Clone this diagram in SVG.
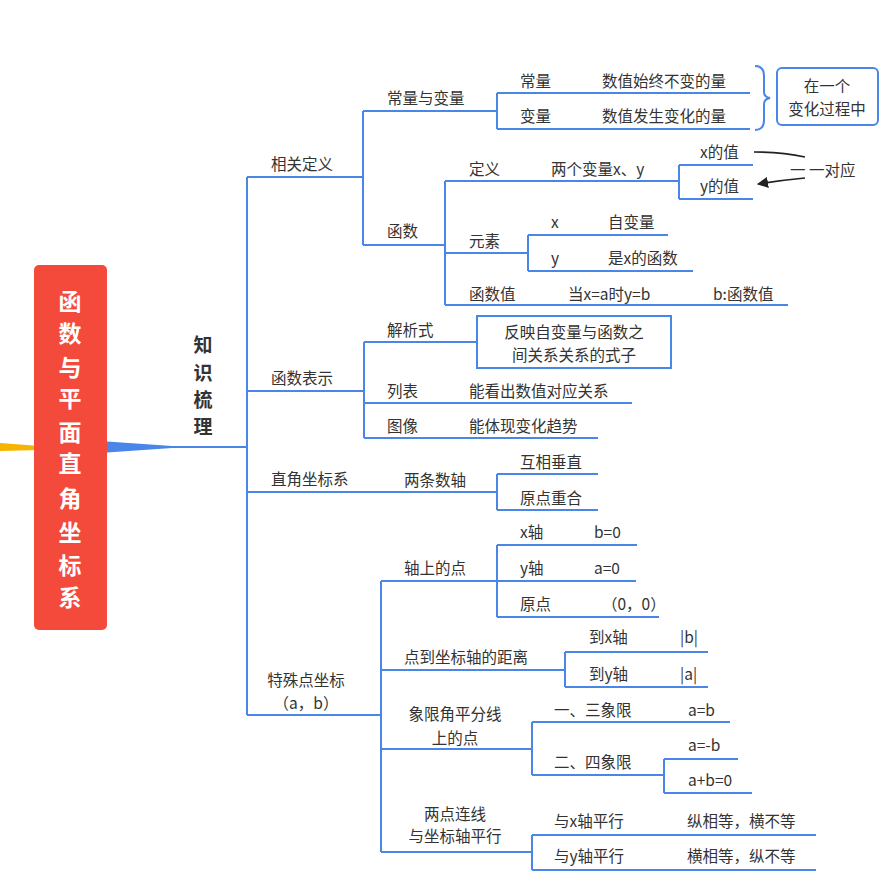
<svg xmlns="http://www.w3.org/2000/svg" width="891" height="883" viewBox="0 0 891 883">
<defs>
<style>
text{font-family:"Noto Sans CJK SC","Liberation Sans",sans-serif;font-size:15.5px;fill:#333}
.c path,.c polyline,.c line{fill:none;stroke:#4a86e8;stroke-width:2}
.box{fill:#fff;stroke:#4a86e8;stroke-width:2}
.mid{text-anchor:middle}
.k{font-weight:bold;font-size:19px;text-anchor:middle}
.r{font-weight:bold;font-size:23px;fill:#fff;text-anchor:middle}
</style>
<marker id="ah" viewBox="0 0 10 10" refX="9" refY="5" markerWidth="7" markerHeight="7" orient="auto"><path d="M0,0L10,5L0,10z" fill="#222"/></marker>
</defs>
<rect width="891" height="883" fill="#fff"/>
<g id="links" class="c">
<polygon points="0,443 40,446 40,450 0,451" fill="#f5b400" stroke="none"/>
<polygon points="100,441 172,446 172,448 100,453" fill="#4a86e8" stroke="none"/>
<path d="M170,447H247M247,177V715"/>
<path d="M247,177H363M363,111V245M363,111H497M497,93V129M497,93H750M497,129H750"/>
<path d="M363,245H445M445,181V305M445,181H679M679,165V199M679,165H753M679,199H753"/>
<path d="M445,253H528M528,235V271M528,235H668M528,271H693M445,305H788"/>
<path d="M247,391H364M364,342V438M364,342H477M364,403H632M364,438H598"/>
<path d="M247,492H497M497,474V510M497,474H598M497,510H598"/>
<path d="M247,715H381M381,581V852M381,581H497M497,545V617M497,545H637M497,581H636M497,617H659"/>
<path d="M381,670H565M565,652V687M565,652H708M565,687H708"/>
<path d="M381,749H532M532,722V775M532,722H730M532,775H664M664,759V793M664,759H738M664,793H752"/>
<path d="M381,852H532M532,835V870M532,835H816M532,870H816"/>
<path d="M755,66Q764,66 764,76V92Q764,97 770,98Q764,99 764,104V120Q764,130 755,130"/>
<path d="M754,152Q782,152 805,157" style="stroke:#222;stroke-width:1.6"/>
<path d="M805,178Q783,180 758,184" style="stroke:#222;stroke-width:1.6" marker-end="url(#ah)"/>
</g>
<g id="root"><rect x="34" y="265" width="73" height="365" rx="5" fill="#f44a3b"/>
<text class="r" x="70" y="310">函</text><text class="r" x="70" y="342">数</text><text class="r" x="70" y="376">与</text><text class="r" x="70" y="407">平</text><text class="r" x="70" y="441">面</text><text class="r" x="70" y="472">直</text><text class="r" x="70" y="507">角</text><text class="r" x="70" y="541">坐</text><text class="r" x="70" y="574">标</text><text class="r" x="70" y="606">系</text></g>
<g id="zhishi"><text class="k" x="203" y="352">知</text><text class="k" x="203" y="380">识</text><text class="k" x="203" y="407">梳</text><text class="k" x="203" y="434">理</text></g>
<g id="n1"><text x="271" y="170">相关定义</text></g>
<g id="n1a"><text x="387" y="104">常量与变量</text><text x="520" y="87">常量</text><text x="602" y="87">数值始终不变的量</text><text x="520" y="122">变量</text><text x="602" y="122">数值发生变化的量</text></g>
<g id="box1"><rect class="box" x="777" y="68" width="101" height="57" rx="5"/><text class="mid" x="827" y="92">在一个</text><text class="mid" x="827" y="115">变化过程中</text></g>
<g id="n1b"><text x="387" y="237">函数</text><text x="469" y="175">定义</text><text x="551" y="175">两个变量x、y</text><text x="700" y="158">x的值</text><text x="700" y="192">y的值</text><text x="790" y="176">一 一对应</text>
<text x="469" y="247">元素</text><text x="551" y="228">x</text><text x="608" y="228">自变量</text><text x="551" y="264">y</text><text x="608" y="264">是x的函数</text>
<text x="469" y="300">函数值</text><text x="568" y="300">当x=a时y=b</text><text x="713" y="300">b:函数值</text></g>
<g id="n2"><text x="271" y="384">函数表示</text><text x="387" y="336">解析式</text><rect class="box" x="477" y="316" width="194" height="52"/><text class="mid" x="574" y="338">反映自变量与函数之</text><text class="mid" x="574" y="361">间关系关系的式子</text>
<text x="387" y="397">列表</text><text x="469" y="397">能看出数值对应关系</text><text x="387" y="432">图像</text><text x="469" y="432">能体现变化趋势</text></g>
<g id="n3"><text x="271" y="485">直角坐标系</text><text x="404" y="486">两条数轴</text><text x="520" y="468">互相垂直</text><text x="520" y="504">原点重合</text></g>
<g id="n4"><text class="mid" x="306" y="686">特殊点坐标</text><text class="mid" x="306" y="709">（a，b）</text>
<text x="404" y="574">轴上的点</text><text x="520" y="538">x轴</text><text x="594" y="538">b=0</text><text x="520" y="574">y轴</text><text x="594" y="574">a=0</text><text x="520" y="610">原点</text><text x="602" y="610">（0，0）</text>
<text x="404" y="663">点到坐标轴的距离</text><text x="589" y="643">到x轴</text><text x="680" y="643">|b|</text><text x="589" y="680">到y轴</text><text x="680" y="680">|a|</text>
<text class="mid" x="455" y="720">象限角平分线</text><text class="mid" x="455" y="744">上的点</text><text x="554" y="716">一、三象限</text><text x="688" y="716">a=b</text><text x="554" y="768">二、四象限</text><text x="688" y="751">a=-b</text><text x="688" y="786">a+b=0</text>
<text class="mid" x="455" y="820">两点连线</text><text class="mid" x="455" y="842">与坐标轴平行</text><text x="554" y="827">与x轴平行</text><text x="687" y="827">纵相等，横不等</text><text x="554" y="862">与y轴平行</text><text x="687" y="862">横相等，纵不等</text></g>
</svg>
